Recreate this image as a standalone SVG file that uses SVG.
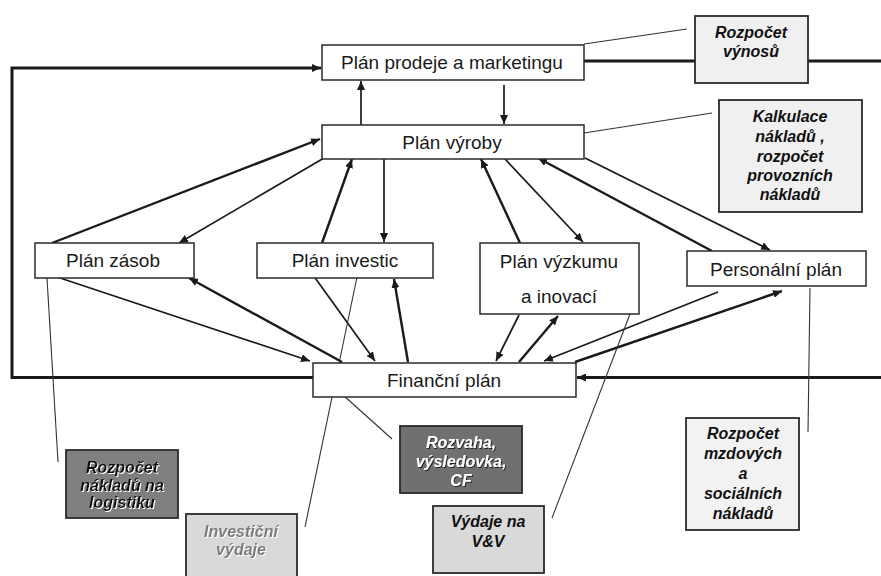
<svg xmlns="http://www.w3.org/2000/svg" width="881" height="576" viewBox="0 0 881 576">
  <style>
    .node { fill: #ffffff; stroke: #2a2a2a; stroke-width: 1.5; }
    .lbl { font-family: "Liberation Sans", Arial, sans-serif; font-size: 19px; fill: #1a1a1a; text-anchor: middle; }
    .note { stroke: #2a2a2a; stroke-width: 1.8; }
    .nt { font-family: "Liberation Sans", Arial, sans-serif; font-size: 16px; font-style: italic; font-weight: bold; text-anchor: middle; }
    .frame { fill: none; stroke: #1a1a1a; stroke-width: 3; }
    .thick { stroke: #1a1a1a; stroke-width: 2.4; fill: none; }
    .thin { stroke: #1a1a1a; stroke-width: 1.7; fill: none; }
    .call { stroke: #333333; stroke-width: 1.1; fill: none; }
  </style>
  <defs>
    <marker id="ah" markerUnits="userSpaceOnUse" markerWidth="10" markerHeight="8" refX="9" refY="4" orient="auto">
      <path d="M0,0 L9,4 L0,8 Z" fill="#1a1a1a"/>
    </marker>
    <!-- embossed lettering: light offset copy behind the glyphs -->
    <filter id="liteShadow" x="-10%" y="-20%" width="120%" height="140%">
      <feOffset in="SourceAlpha" dx="1" dy="1" result="off"/>
      <feFlood flood-color="#ffffff"/>
      <feComposite in2="off" operator="in"/>
      <feMerge><feMergeNode/><feMergeNode in="SourceGraphic"/></feMerge>
    </filter>
    <filter id="darkShadow" x="-10%" y="-20%" width="120%" height="140%">
      <feOffset in="SourceAlpha" dx="1" dy="1" result="off"/>
      <feFlood flood-color="#222222"/>
      <feComposite in2="off" operator="in"/>
      <feMerge><feMergeNode/><feMergeNode in="SourceGraphic"/></feMerge>
    </filter>
  </defs>

  <!-- connectors -->
  <g id="connectors">
    <!-- outer loop and horizontal feeds -->
    <polyline class="frame" points="314,377.5 12,377.5 12,68 313,68"/>
    <path d="M313,68 L321,68" class="frame" marker-end="url(#ah)"/>
    <line class="frame" x1="881" y1="377.5" x2="586" y2="377.5"/>
    <path d="M586,377.5 L577,377.5" class="frame" marker-end="url(#ah)"/>
    <line class="frame" x1="584" y1="61" x2="695" y2="61"/>
    <line class="frame" x1="808" y1="61" x2="881" y2="61"/>

    <!-- sales and production -->
    <line class="thin" x1="361" y1="125" x2="361" y2="81" marker-end="url(#ah)"/>
    <line class="thin" x1="504" y1="85" x2="504" y2="124" marker-end="url(#ah)"/>

    <!-- production plan links -->
    <line class="thick" x1="52" y1="243" x2="320" y2="139" marker-end="url(#ah)"/>
    <line class="thin" x1="324" y1="158" x2="179" y2="243" marker-end="url(#ah)"/>
    <line class="thick" x1="322" y1="243" x2="352" y2="159" marker-end="url(#ah)"/>
    <line class="thin" x1="384" y1="159" x2="384" y2="242" marker-end="url(#ah)"/>
    <line class="thick" x1="520" y1="243" x2="481" y2="159" marker-end="url(#ah)"/>
    <line class="thin" x1="505" y1="159" x2="583" y2="242" marker-end="url(#ah)"/>
    <line class="thick" x1="712" y1="251" x2="538" y2="158" marker-end="url(#ah)"/>
    <line class="thin" x1="585" y1="158" x2="770" y2="250" marker-end="url(#ah)"/>

    <!-- financial plan links -->
    <line class="thin" x1="51" y1="275" x2="310" y2="361" marker-end="url(#ah)"/>
    <line class="thick" x1="342" y1="362" x2="189" y2="278" marker-end="url(#ah)"/>
    <line class="thin" x1="313" y1="275" x2="375" y2="361" marker-end="url(#ah)"/>
    <line class="thick" x1="408" y1="362" x2="394" y2="279" marker-end="url(#ah)"/>
    <line class="thin" x1="519" y1="315" x2="496" y2="361" marker-end="url(#ah)"/>
    <line class="thick" x1="519" y1="362" x2="558" y2="316" marker-end="url(#ah)"/>
    <line class="thin" x1="718" y1="292" x2="544" y2="361" marker-end="url(#ah)"/>
    <line class="thick" x1="575" y1="362" x2="782" y2="291" marker-end="url(#ah)"/>

    <!-- callout leaders -->
    <line class="call" x1="584" y1="44" x2="687" y2="29"/>
    <line class="call" x1="584" y1="133" x2="712" y2="113"/>
    <line class="call" x1="47" y1="278" x2="58" y2="462"/>
    <line class="call" x1="357" y1="277" x2="305" y2="527"/>
    <line class="call" x1="343" y1="395" x2="392" y2="439"/>
    <line class="call" x1="630" y1="314" x2="552" y2="518"/>
    <line class="call" x1="810" y1="288" x2="808" y2="432"/>
  </g>

  <!-- plan nodes -->
  <g id="plan-prodeje">
    <rect class="node" x="322" y="45" width="262" height="35"/>
    <text class="lbl" x="452" y="69">Plán prodeje a marketingu</text>
  </g>
  <g id="plan-vyroby">
    <rect class="node" x="322" y="125" width="262" height="34"/>
    <text class="lbl" x="452" y="149">Plán výroby</text>
  </g>
  <g id="plan-zasob">
    <rect class="node" x="35" y="243" width="159" height="35"/>
    <text class="lbl" x="113" y="267">Plán zásob</text>
  </g>
  <g id="plan-investic">
    <rect class="node" x="257" y="243" width="176" height="35"/>
    <text class="lbl" x="345" y="267">Plán investic</text>
  </g>
  <g id="plan-vyzkumu">
    <rect class="node" x="480" y="243" width="159" height="71"/>
    <text class="lbl" x="559" y="268">Plán výzkumu</text>
    <text class="lbl" x="559" y="303">a inovací</text>
  </g>
  <g id="personalni-plan">
    <rect class="node" x="687" y="251" width="179" height="35"/>
    <text class="lbl" x="776" y="276">Personální plán</text>
  </g>
  <g id="financni-plan">
    <rect class="node" x="313" y="363" width="263" height="34"/>
    <text class="lbl" x="444" y="387">Finanční plán</text>
  </g>

  <!-- budget notes -->
  <g id="rozpocet-vynosu">
    <rect class="note" x="695" y="16" width="113" height="67" fill="#f0f0f0"/>
    <text class="nt" x="751" y="38" fill="#111">Rozpočet</text>
    <text class="nt" x="751" y="57" fill="#111">výnosů</text>
  </g>
  <g id="kalkulace">
    <rect class="note" x="719" y="100" width="143" height="112" fill="#f0f0f0"/>
    <text class="nt" x="790" y="122" fill="#111">Kalkulace</text>
    <text class="nt" x="790" y="142" fill="#111">nákladů ,</text>
    <text class="nt" x="790" y="162" fill="#111">rozpočet</text>
    <text class="nt" x="790" y="181" fill="#111">provozních</text>
    <text class="nt" x="790" y="200" fill="#111">nákladů</text>
  </g>
  <g id="naklady-logistika">
    <rect class="note" x="66" y="450" width="112" height="68" fill="#7f7f7f"/>
    <g fill="#111" filter="url(#liteShadow)" font-size="15px">
      <text class="nt" x="122" y="473" font-size="15px">Rozpočet</text>
      <text class="nt" x="122" y="490.5" font-size="15px">nákladů na</text>
      <text class="nt" x="122" y="508" font-size="15px">logistiku</text>
    </g>
  </g>
  <g id="investicni-vydaje">
    <rect class="note" x="186" y="514" width="111" height="70" fill="#d9d9d9"/>
    <g fill="#7a7a7a" filter="url(#liteShadow)">
      <text class="nt" x="241" y="537">Investiční</text>
      <text class="nt" x="241" y="555">výdaje</text>
    </g>
  </g>
  <g id="rozvaha">
    <rect class="note" x="400" y="426" width="122" height="67" fill="#707070"/>
    <g fill="#ffffff" filter="url(#darkShadow)">
      <text class="nt" x="461" y="448">Rozvaha,</text>
      <text class="nt" x="461" y="467">výsledovka,</text>
      <text class="nt" x="461" y="486">CF</text>
    </g>
  </g>
  <g id="vydaje-vv">
    <rect class="note" x="433" y="506" width="111" height="67" fill="#d9d9d9"/>
    <g fill="#111">
      <text class="nt" x="488" y="527">Výdaje na</text>
      <text class="nt" x="488" y="547">V&amp;V</text>
    </g>
  </g>
  <g id="mzdove-naklady">
    <rect class="note" x="686" y="418" width="113" height="112" fill="#f2f2f2"/>
    <g fill="#111">
      <text class="nt" x="743" y="439">Rozpočet</text>
      <text class="nt" x="743" y="459">mzdových</text>
      <text class="nt" x="743" y="479">a</text>
      <text class="nt" x="743" y="499">sociálních</text>
      <text class="nt" x="743" y="519">nákladů</text>
    </g>
  </g>
</svg>
